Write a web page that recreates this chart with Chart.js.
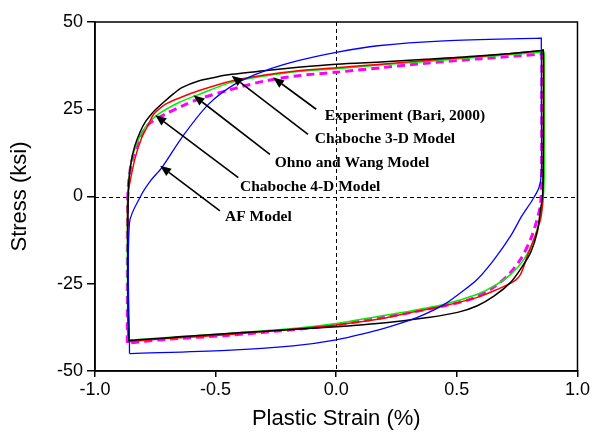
<!DOCTYPE html>
<html>
<head>
<meta charset="utf-8">
<script src="https://cdn.jsdelivr.net/npm/chart.js@4.4.0/dist/chart.umd.min.js"></script>
<style>
  html, body { margin: 0; padding: 0; background: #fff; }
  #wrap { width: 592px; height: 438px; }
</style>
</head>
<body>
<div id="wrap"><canvas id="grafica" width="592" height="438"></canvas></div>
<script>
// Experiment (Bari, 2000) - loop: loading branch then unloading branch
const expStrain = [-0.86, -0.863, -0.864, -0.86, -0.85, -0.835, -0.813, -0.79, -0.764, -0.735, -0.709, -0.675, -0.64, -0.571, -0.5, -0.434, -0.3, -0.158, 0, 0.2, 0.372, 0.6, 0.854, 0.858,
  0.859, 0.858, 0.855, 0.847, 0.833, 0.806, 0.764, 0.723, 0.655, 0.585, 0.503, 0.379, 0.241, 0.1, 0, -0.2, -0.39, -0.6, -0.854, -0.86];
const expStress = [-41.5, -30, -10, 4, 10, 14.5, 18.5, 21.5, 23.8, 25.8, 27.4, 29.4, 31.2, 33.1, 34.2, 35.0, 36.0, 37.0, 37.9, 38.6, 39.3, 40.3, 41.8, 42.0,
  30, 10, 0, -3.6, -10.3, -16, -20.8, -24.6, -28.5, -31.3, -33.2, -34.7, -35.9, -36.8, -37.3, -38.2, -39.0, -40.0, -41.2, -41.5];

// Chaboche 3-D Model
const ch3Strain = [-0.862, -0.864, -0.864, -0.854, -0.833, -0.806, -0.778, -0.762, -0.75, -0.709, -0.64, -0.571, -0.434, -0.296, -0.158, 0, 0.2, 0.372, 0.6, 0.854, 0.858,
  0.859, 0.858, 0.855, 0.847, 0.82, 0.792, 0.778, 0.764, 0.745, 0.723, 0.668, 0.585, 0.448, 0.31, 0.172, 0, -0.158, -0.455, -0.7, -0.862];
const ch3Stress = [-41.6, -20, 0.3, 4.5, 11.2, 16.9, 20.7, 23.0, 24.1, 26.4, 28.5, 30.3, 33.1, 34.8, 36.0, 36.9, 38.0, 39.0, 40.2, 41.8, 42.0,
  30, 5, -2, -6.5, -12.2, -17, -19.9, -22.3, -23.9, -24.8, -26.6, -28.9, -31.3, -33.2, -35.2, -36.8, -37.9, -39.6, -40.7, -41.6];

// Ohno and Wang Model
const owStrain = [-0.864, -0.866, -0.865, -0.858, -0.854, -0.833, -0.792, -0.737, -0.65, -0.571, -0.434, -0.296, -0.158, 0, 0.2, 0.372, 0.6, 0.858, 0.862,
  0.863, 0.862, 0.856, 0.847, 0.82, 0.778, 0.723, 0.655, 0.585, 0.448, 0.31, 0.172, 0, -0.158, -0.455, -0.7, -0.864];
const owStress = [-41.2, -20, -0.8, 5, 8.3, 14, 19.8, 23.6, 27, 29.2, 32.7, 34.5, 35.8, 36.6, 37.8, 38.7, 40.0, 41.4, 41.4,
  30, 5, -2, -5.5, -12.2, -18, -22.3, -25.6, -28, -30.9, -32.8, -34.4, -36.4, -37.7, -39.3, -40.4, -41.2];

// Chaboche 4-D Model
const ch4Strain = [-0.866, -0.866, -0.865, -0.86, -0.847, -0.819, -0.778, -0.709, -0.64, -0.571, -0.434, -0.296, -0.158, 0, 0.2, 0.372, 0.6, 0.848, 0.852,
  0.852, 0.851, 0.847, 0.833, 0.806, 0.764, 0.71, 0.64, 0.558, 0.448, 0.31, 0.172, 0, -0.158, -0.455, -0.7, -0.866];
const ch4Stress = [-42, -20, -2.2, 4.5, 10.2, 15.9, 20.7, 23.6, 25.9, 27.9, 30.7, 33.1, 34.6, 35.6, 37.0, 38.2, 39.5, 40.8, 40.8,
  25, 5, -2.2, -6.5, -12.2, -18, -22.7, -26.6, -29.4, -31.3, -33.2, -34.9, -36.8, -38, -39.8, -40.9, -42];

// AF Model
const afStrain = [-0.857, -0.857, -0.806, -0.77, -0.723, -0.64, -0.53, -0.42, -0.296, -0.158, 0, 0.172, 0.448, 0.848, 0.85,
  0.85, 0.85, 0.84, 0.813, 0.77, 0.723, 0.655, 0.585, 0.517, 0.448, 0.351, 0.255, 0.172, 0, -0.179, -0.455, -0.853, -0.857];
const afStress = [-45, -7.5, 0.7, 4.5, 8.3, 16.9, 26.4, 32.2, 36, 38.9, 41.3, 43.2, 44.6, 45.4, 45.4,
  30, 6.5, 2.5, -1, -5.5, -11.3, -18, -23.7, -27.5, -30.9, -34.2, -36.6, -38.3, -41.1, -42.8, -44.1, -45, -45];

// etiquetas con flecha (punta, cola, texto) en unidades de datos
const notaTexto = ['Experiment (Bari, 2000)', 'Chaboche 3-D Model', 'Ohno and Wang Model', 'Chaboche 4-D Model', 'AF Model'];
const notaPunta = [[-0.262, 34.1], [-0.434, 34.6], [-0.592, 29.0], [-0.750, 23.3], [-0.730, 8.8]];
const notaCola = [[-0.083, 25.0], [-0.117, 17.8], [-0.275, 12.1], [-0.406, 5.4], [-0.482, -4.1]];
const notaPos = [[-0.048, 23.1], [-0.089, 16.4], [-0.255, 9.5], [-0.399, 2.6], [-0.461, -6.0]];

const xTicks = [-1.0, -0.5, 0.0, 0.5, 1.0];
const yTicks = [-50, -25, 0, 25, 50];

function puntos(xs, ys) {
    return xs.map((x, i) => ({x: x, y: ys[i]}));
}

const extras = {
    id: 'extras',
    beforeDatasetsDraw(chart) {
        const ctx = chart.ctx;
        const a = chart.chartArea;
        const sx = chart.scales.x, sy = chart.scales.y;
        ctx.save();
        ctx.strokeStyle = '#000';
        ctx.lineWidth = 1;
        ctx.setLineDash([4, 3]);
        const x0 = Math.round(sx.getPixelForValue(0)) + 0.5;
        const y0 = Math.round(sy.getPixelForValue(0)) + 0.5;
        ctx.beginPath();
        ctx.moveTo(x0, a.top); ctx.lineTo(x0, a.bottom);
        ctx.moveTo(a.left, y0); ctx.lineTo(a.right, y0);
        ctx.stroke();
        ctx.restore();
    },
    afterDatasetsDraw(chart) {
        const ctx = chart.ctx;
        const a = chart.chartArea;
        const sx = chart.scales.x, sy = chart.scales.y;
        ctx.save();
        // marco
        ctx.strokeStyle = '#000';
        ctx.lineWidth = 1.5;
        ctx.strokeRect(a.left, a.top, a.right - a.left, a.bottom - a.top);

        // flechas
        ctx.fillStyle = '#000';
        ctx.lineWidth = 1.6;
        for (let i = 0; i < notaTexto.length; i++) {
            const hx = sx.getPixelForValue(notaPunta[i][0]), hy = sy.getPixelForValue(notaPunta[i][1]);
            const tx = sx.getPixelForValue(notaCola[i][0]), ty = sy.getPixelForValue(notaCola[i][1]);
            const ang = Math.atan2(hy - ty, hx - tx);
            const largo = 11, ancho = 4.5;
            const bx = hx - largo * Math.cos(ang), by = hy - largo * Math.sin(ang);
            ctx.beginPath();
            ctx.moveTo(tx, ty); ctx.lineTo(bx, by);
            ctx.stroke();
            ctx.beginPath();
            ctx.moveTo(hx, hy);
            ctx.lineTo(bx + ancho * Math.sin(ang), by - ancho * Math.cos(ang));
            ctx.lineTo(bx - ancho * Math.sin(ang), by + ancho * Math.cos(ang));
            ctx.closePath();
            ctx.fill();

            ctx.font = 'bold 15.5px "Liberation Serif", "Times New Roman", serif';
            ctx.textAlign = 'left';
            ctx.textBaseline = 'middle';
            ctx.fillText(notaTexto[i], sx.getPixelForValue(notaPos[i][0]), sy.getPixelForValue(notaPos[i][1]));
        }
        ctx.restore();
    }
};

const serie = (data, color, ancho, dash) => ({
    data: data,
    showLine: true,
    borderColor: color,
    borderWidth: ancho,
    borderDash: dash || [],
    pointRadius: 0,
    tension: 0.3,
    fill: false
});

const fuente = {family: '"Liberation Sans", Arial, sans-serif', size: 18};

new Chart(document.getElementById('grafica').getContext('2d'), {
    type: 'scatter',
    data: {
        datasets: [
            serie(puntos(afStrain, afStress), '#0000ff', 1.3),
            serie(puntos(expStrain, expStress), '#000000', 1.5),
            serie(puntos(ch3Strain, ch3Stress), '#ff0000', 1.5),
            serie(puntos(owStrain, owStress), '#00ee00', 1.5),
            serie(puntos(ch4Strain, ch4Stress), '#ff00ff', 3, [8, 5])
        ]
    },
    options: {
        responsive: false,
        animation: false,
        layout: {padding: {top: 22, right: 10, left: 0, bottom: 0}},
        plugins: {legend: {display: false}, tooltip: {enabled: false}},
        scales: {
            x: {
                type: 'linear',
                min: -1, max: 1,
                afterBuildTicks: s => { s.ticks = xTicks.map(v => ({value: v})); },
                afterFit: s => { s.height = 67; },
                ticks: {color: '#000', font: fuente, padding: 2, maxRotation: 0,
                    callback: v => v.toFixed(1)},
                grid: {drawOnChartArea: false, tickLength: 6, color: '#000', lineWidth: 1.5},
                border: {display: true, color: '#000', width: 1.5},
                title: {display: true, text: 'Plastic Strain (%)', color: '#000',
                    font: {family: '"Liberation Sans", Arial, sans-serif', size: 22}, padding: {top: 0, bottom: 6}}
            },
            y: {
                type: 'linear',
                min: -50, max: 50,
                afterBuildTicks: s => { s.ticks = yTicks.map(v => ({value: v})); },
                afterFit: s => { s.width = 95; },
                ticks: {color: '#000', font: fuente, padding: 4,
                    callback: v => String(v)},
                grid: {drawOnChartArea: false, tickLength: 8, color: '#000', lineWidth: 1.5},
                border: {display: true, color: '#000', width: 1.5},
                title: {display: true, text: 'Stress (ksi)', color: '#000',
                    font: {family: '"Liberation Sans", Arial, sans-serif', size: 22}, padding: {top: 7, bottom: 0}}
            }
        }
    },
    plugins: [extras]
});
</script>
</body>
</html>
